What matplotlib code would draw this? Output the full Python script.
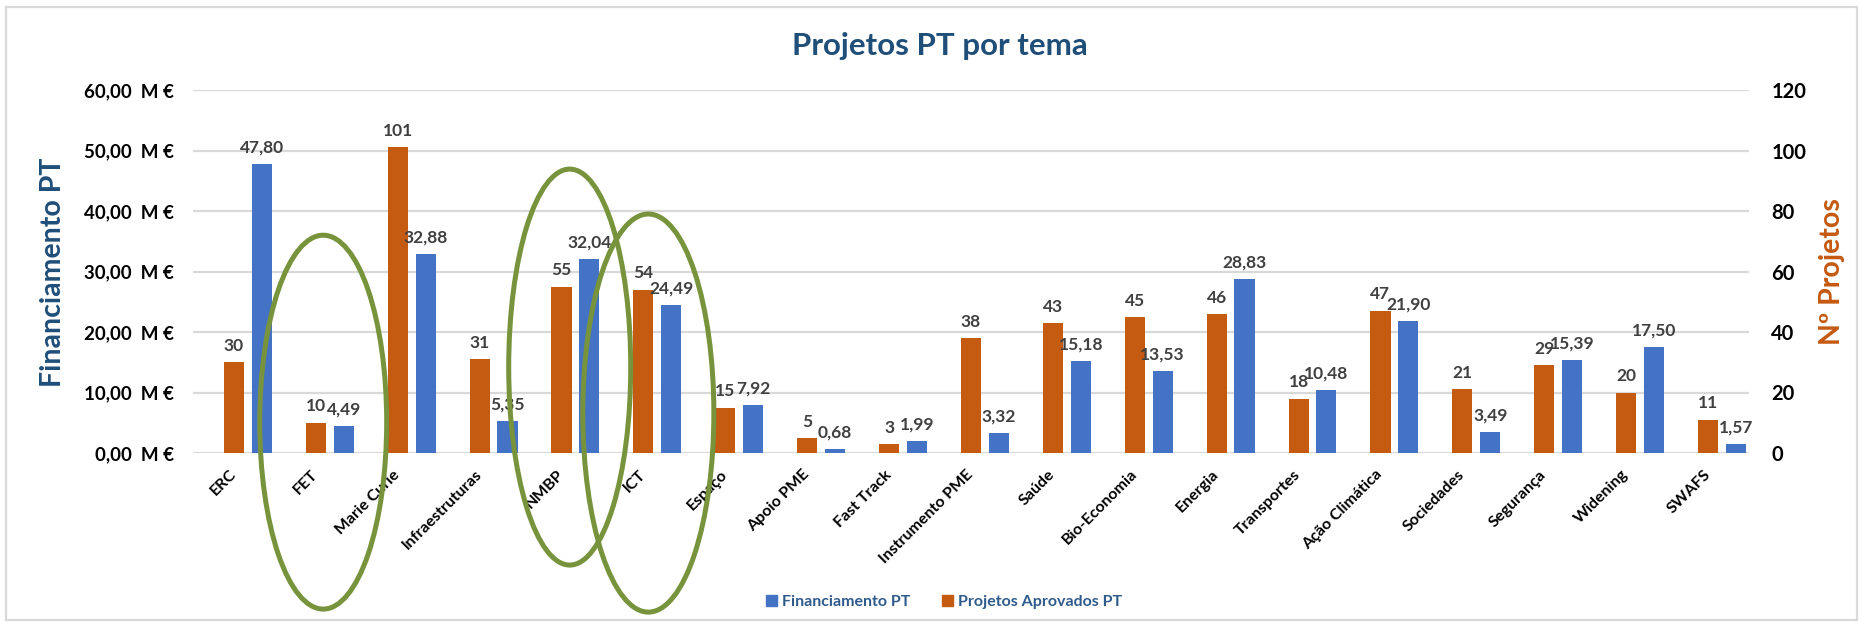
import matplotlib
matplotlib.use("Agg")
import matplotlib.pyplot as plt
from matplotlib.patches import Ellipse, Patch, Rectangle
import numpy as np

plt.rcParams['font.family'] = ['Lato', 'DejaVu Sans']

# ---- data ----
categorias = ['ERC', 'FET', 'Marie Curie', 'Infraestruturas', 'NMBP', 'ICT', 'Espaço',
              'Apoio PME', 'Fast Track', 'Instrumento PME', 'Saúde', 'Bio-Economia',
              'Energia', 'Transportes', 'Ação Climática', 'Sociedades', 'Segurança',
              'Widening', 'SWAFS']
financiamento = [47.80, 4.49, 32.88, 5.35, 32.04, 24.49, 7.92, 0.68, 1.99, 3.32,
                 15.18, 13.53, 28.83, 10.48, 21.90, 3.49, 15.39, 17.50, 1.57]
projetos = [30, 10, 101, 31, 55, 54, 15, 5, 3, 38, 43, 45, 46, 18, 47, 21, 29, 20, 11]
ticks_fin = [0, 10, 20, 30, 40, 50, 60]
ticks_proj = [0, 20, 40, 60, 80, 100, 120]
destaques = ['FET', 'NMBP', 'ICT']

titulo = 'Projetos PT por tema'
serie_fin = 'Financiamento PT'
serie_proj = 'Projetos Aprovados PT'

# ---- style ----
AZUL = '#4472C4'
LARANJA = '#C55A11'
TITULO_COR = '#1F4E79'
VERDE = '#77933C'
CINZA = '#D9D9D9'

W, H = 1864, 626
fig = plt.figure(figsize=(W / 100, H / 100), dpi=100)
fig.patches.append(Rectangle((6 / W, 6 / H), 1 - 13 / W, 1 - 13 / H, transform=fig.transFigure,
                             fill=False, edgecolor=CINZA, lw=1.6))

L, R, T, B = 193, 1749, 90, 453
ax = fig.add_axes([L / W, 1 - B / H, (R - L) / W, (B - T) / H])
ax2 = ax.twinx()

x = np.arange(len(categorias))
bw = 0.245
off = 0.34
ax2.bar(x, projetos, bw, color=LARANJA, zorder=3)
ax.bar(x + off, financiamento, bw, color=AZUL, zorder=3)

ax.set_xlim(-0.5, len(categorias) - 0.5)
ax.set_ylim(0, 60)
ax2.set_ylim(0, 120)
ax.set_yticks(ticks_fin)
ax.set_yticklabels([f"{v:.2f}".replace('.', ',') + "  M €" for v in ticks_fin],
                   fontsize=13.5, fontweight='bold', color='black')
ax2.set_yticks(ticks_proj)
ax2.set_yticklabels([str(v) for v in ticks_proj], fontsize=14.5, fontweight='bold', color='black')
ax.tick_params(axis='y', length=0, pad=14)
ax2.tick_params(axis='y', length=0, pad=16)

ax.set_xticks(x)
ax.set_xticklabels(categorias, rotation=45, ha='right', va='center', rotation_mode='anchor',
                   fontsize=11.5, fontweight='bold', color='black')
ax.tick_params(axis='x', length=0, pad=14)

ax.set_axisbelow(True)
ax.yaxis.grid(True, color=CINZA, lw=1.6)
ax.xaxis.grid(False)
for a in (ax, ax2):
    for s in a.spines.values():
        s.set_visible(False)

# data labels (drawn on top layer)
for xi, v in zip(x, projetos):
    ax2.annotate(str(v), (xi, v), xytext=(0, 6), textcoords='offset points',
                 ha='center', va='bottom', fontsize=12.5, fontweight='bold', color='#404040', zorder=6)
for xi, v in zip(x, financiamento):
    ax2.annotate(f"{v:.2f}".replace('.', ','), (xi + off, v), xycoords=ax.transData,
                 xytext=(0, 6), textcoords='offset points',
                 ha='center', va='bottom', fontsize=12.5, fontweight='bold', color='#404040', zorder=6)

# highlight ellipses (x offset from category, y centre, width, height in secondary-axis units)
geom = {'FET': (0.09, 10.2, 1.55, 123.6), 'NMBP': (0.10, 28.4, 1.49, 130.9), 'ICT': (0.06, 13.2, 1.60, 131.6)}
for nome in destaques:
    i = categorias.index(nome)
    dx, yc, ew, eh = geom[nome]
    ax2.add_patch(Ellipse((i + dx, yc), ew, eh, transform=ax2.transData, fill=False,
                          edgecolor=VERDE, lw=3.6, clip_on=False, zorder=8))

# titles
fig.text(940 / W, 1 - 55 / H, titulo, ha='center', va='baseline', fontsize=22.5,
         fontweight='bold', color=TITULO_COR)
fig.text(53 / W, 1 - 272 / H, 'Financiamento PT', rotation=90, ha='center', va='center',
         fontsize=20.5, fontweight='bold', color=TITULO_COR)
fig.text(1832 / W, 1 - 272 / H, 'Nº Projetos', rotation=90, ha='center', va='center',
         fontsize=20.5, fontweight='bold', color=LARANJA)

handles = [Patch(color=AZUL, label=serie_fin), Patch(color=LARANJA, label=serie_proj)]
leg = fig.legend(handles=handles, loc='center', bbox_to_anchor=(944 / W, 1 - 602 / H), ncol=2,
                 frameon=False, handlelength=0.7, handleheight=0.7, handletextpad=0.3,
                 columnspacing=2.0, prop={'size': 11.5, 'weight': 'bold'})
for t in leg.get_texts():
    t.set_color('#2F5A8C')

fig.savefig('out.png', dpi=100)
